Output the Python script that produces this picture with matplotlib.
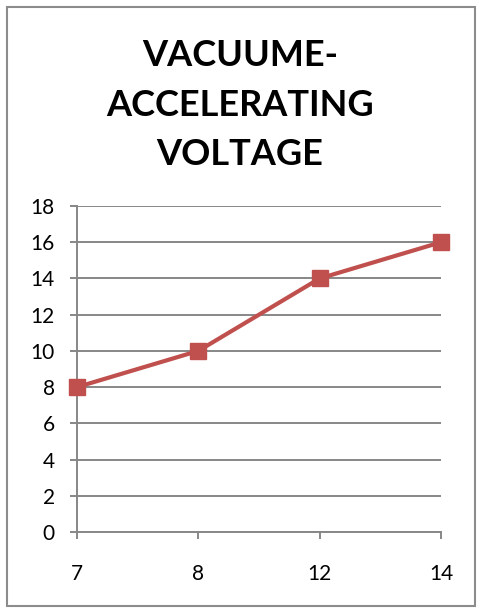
import matplotlib.pyplot as plt
from matplotlib.patches import Rectangle

# data
categories = ["7", "8", "12", "14"]
values = [8, 10, 14, 16]
y_ticks = [0, 2, 4, 6, 8, 10, 12, 14, 16, 18]

plt.rcParams['font.family'] = ['Lato', 'DejaVu Sans']

fig = plt.figure(figsize=(4.8, 6.09), dpi=100)
W, H = 480, 609

# chart border
fig.patches.append(Rectangle((7 / W, 3 / H), 468 / W, 599 / H, transform=fig.transFigure,
                             fill=False, edgecolor="#8c8c8c", linewidth=1.5))

ax = fig.add_axes([77 / W, (H - 532) / H, (441 - 77) / W, (532 - 206) / H])
x = range(len(categories))
ax.plot(x, values, color="#C0504D", linewidth=3.0, marker="s", markersize=12,
        clip_on=False, zorder=3)

ax.set_xlim(0, len(categories) - 1)
ax.set_ylim(0, 18)
ax.set_yticks(y_ticks)
ax.set_xticks(list(x))
ax.set_xticklabels(categories)
ax.yaxis.grid(True, color="#878787", linewidth=1.4)
ax.set_axisbelow(True)
for s in ["top", "right"]:
    ax.spines[s].set_visible(False)
for s in ["left", "bottom"]:
    ax.spines[s].set_color("#878787")
    ax.spines[s].set_linewidth(1.4)
ax.tick_params(axis="y", length=5, width=1.4, color="#878787", labelsize=15, pad=11)
ax.tick_params(axis="x", length=5, width=1.4, color="#878787", labelsize=15, pad=18)

fig.text(0.5, (H - 105) / H, "VACUUME-\nACCELERATING\nVOLTAGE", ha="center", va="center",
         fontsize=26, fontweight="bold", linespacing=1.6)

fig.savefig("out.png", dpi=100)
